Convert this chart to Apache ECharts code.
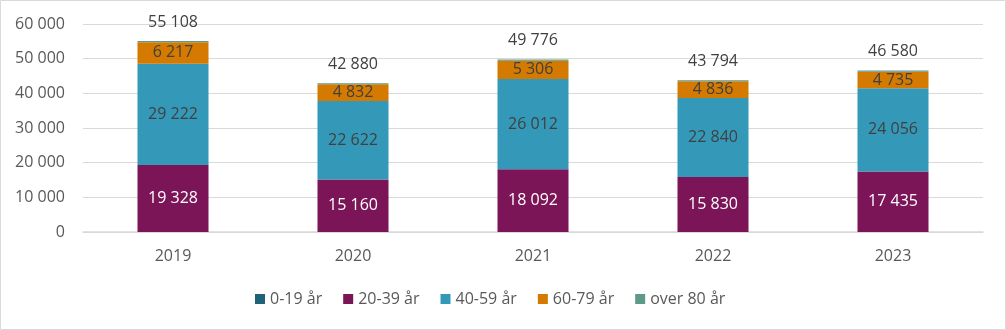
<!DOCTYPE html>
<html><head><meta charset="utf-8">
<script src="https://cdn.jsdelivr.net/npm/echarts@6/dist/echarts.min.js"></script>
<style>html,body{margin:0;padding:0;background:#fff}#c{width:1006px;height:330px}</style>
</head><body><div id="c"></div>
<script>
const categories = ['2019','2020','2021','2022','2023'];
const seriesNames = ['0-19 år','20-39 år','40-59 år','60-79 år','over 80 år'];
const age0_19 = [2, 1, 3, 2, 1];
const age20_39 = [19328, 15160, 18092, 15830, 17435];
const age40_59 = [29222, 22622, 26012, 22840, 24056];
const age60_79 = [6217, 4832, 5306, 4836, 4735];
const age80plus = [339, 265, 363, 286, 353];
const totals = [55108, 42880, 49776, 43794, 46580];
const yTicks = [0, 10000, 20000, 30000, 40000, 50000, 60000];

const colors = ['#1F6378', '#7B1557', '#3499B8', '#D47A00', '#5E9A8A'];
const fmt = v => String(v).replace(/\B(?=(\d{3})+(?!\d))/g, '\u00a0');
const font = 'Open Sans, Noto Sans, sans-serif';
const values = [age0_19, age20_39, age40_59, age60_79, age80plus];
const labelColors = [null, '#ffffff', '#404040', '#404040', null];

const series = values.map((d, i) => ({
  name: seriesNames[i], type: 'bar', stack: 'total', data: d, barWidth: 71,
  itemStyle: { color: colors[i] },
  label: labelColors[i] ? { show: true, position: 'inside', color: labelColors[i], fontSize: 16, fontFamily: font, formatter: p => fmt(p.value) } : { show: false }
}));
series[4].label = { show: true, position: 'top', distance: 11, color: '#404040', fontSize: 16, fontFamily: font, formatter: p => fmt(totals[p.dataIndex]) };

const chart = echarts.init(document.getElementById('c'));
chart.setOption({
  animation: false,
  color: colors,
  graphic: [{ type: 'rect', shape: { x: 0.5, y: 0.5, width: 1005, height: 329 }, style: { fill: 'none', stroke: '#D9D9D9', lineWidth: 1 } }],
  grid: { left: 83, right: 23, top: 24, bottom: 98 },
  legend: {
    bottom: 18, left: 250, itemWidth: 10, itemHeight: 10, itemGap: 21, icon: 'rect',
    textStyle: { color: '#595959', fontSize: 16, fontFamily: font },
    data: seriesNames
  },
  xAxis: {
    type: 'category', data: categories,
    axisLine: { lineStyle: { color: '#D9D9D9', width: 1.5 } }, axisTick: { show: false },
    axisLabel: { color: '#595959', fontSize: 16, fontFamily: font, margin: 16 }
  },
  yAxis: {
    type: 'value', min: 0, max: 60000, interval: 10000,
    axisLine: { show: false }, axisTick: { show: false },
    splitLine: { lineStyle: { color: '#D9D9D9', width: 1 } },
    axisLabel: { color: '#595959', fontSize: 16, fontFamily: font, margin: 18, formatter: v => yTicks.includes(v) ? fmt(v) : '' }
  },
  series: series
});
</script></body></html>
